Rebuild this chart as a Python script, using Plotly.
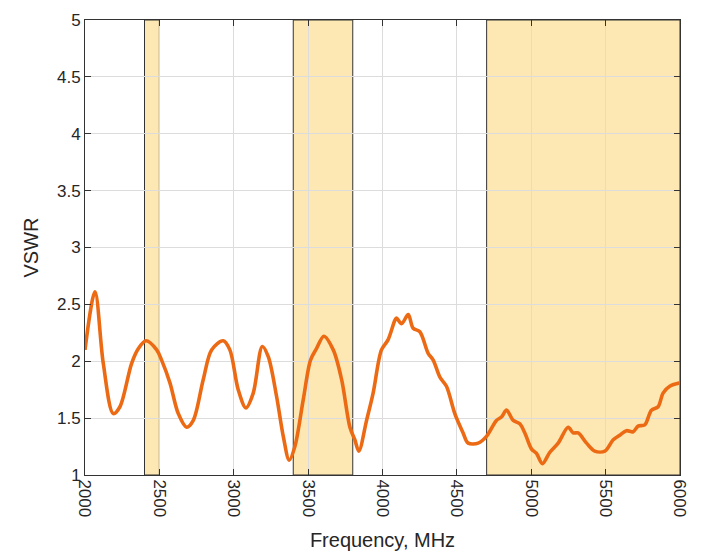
import plotly.graph_objects as go

freq_mhz = [2000, 2067, 2123, 2190, 2235, 2313, 2358, 2410, 2482, 2515, 2571, 2627, 2683, 2728,
            2795, 2851, 2929, 2974, 3030, 3082, 3131, 3192, 3232, 3288, 3333, 3373, 3411, 3467,
            3516, 3556, 3606, 3669, 3725, 3781, 3814, 3841, 3893, 3937, 3993, 4038, 4083, 4094,
            4128, 4173, 4206, 4251, 4307, 4341, 4386, 4430, 4486, 4542, 4576, 4643, 4699, 4766,
            4800, 4834, 4879, 4923, 4957, 5001, 5035, 5075, 5125, 5181, 5248, 5282, 5315, 5372,
            5427, 5495, 5551, 5595, 5640, 5685, 5718, 5763, 5808, 5853, 5886, 5931, 6000]
vswr = [2.10, 2.61, 1.98, 1.54, 1.60, 1.98, 2.11, 2.18, 2.10, 2.01, 1.81, 1.54, 1.42, 1.48,
        1.84, 2.10, 2.18, 2.10, 1.75, 1.59, 1.72, 2.13, 2.04, 1.69, 1.34, 1.13, 1.25, 1.66,
        2.01, 2.11, 2.22, 2.10, 1.84, 1.42, 1.31, 1.21, 1.48, 1.72, 2.10, 2.19, 2.36, 2.38,
        2.33, 2.41, 2.29, 2.26, 2.07, 2.01, 1.86, 1.78, 1.54, 1.37, 1.28, 1.28, 1.34, 1.48,
        1.51, 1.57, 1.48, 1.45, 1.37, 1.23, 1.19, 1.10, 1.20, 1.28, 1.42, 1.37, 1.37, 1.28,
        1.21, 1.21, 1.31, 1.35, 1.39, 1.38, 1.43, 1.44, 1.57, 1.60, 1.72, 1.78, 1.81]

band_starts = [2400, 3400, 4700]
band_ends = [2500, 3800, 6000]

x_ticks = [2000, 2500, 3000, 3500, 4000, 4500, 5000, 5500, 6000]
y_ticks = [1, 1.5, 2, 2.5, 3, 3.5, 4, 4.5, 5]
y_tick_labels = ["1", "1.5", "2", "2.5", "3", "3.5", "4", "4.5", "5"]

FONT = "Liberation Sans, Arial"

fig = go.Figure()
fig.add_trace(go.Scatter(x=freq_mhz, y=vswr, mode="lines",
                         line=dict(color="#EC6A14", width=3.6, shape="spline", smoothing=0.9),
                         showlegend=False))

for s, e in zip(band_starts, band_ends):
    fig.add_shape(type="rect", xref="x", yref="y", x0=s, x1=e, y0=1, y1=5,
                  fillcolor="#FDE8B3", line=dict(color="#333333", width=1), layer="below")

axis_common = dict(showline=True, linecolor="#333333", linewidth=1, mirror="ticks",
                   ticks="inside", ticklen=6, tickcolor="#333333", automargin=False,
                   showgrid=True, gridcolor="#DCDCDC", gridwidth=1, zeroline=False,
                   tickfont=dict(family=FONT, size=17, color="#262626"))

fig.update_xaxes(range=[2000, 6000], tickvals=x_ticks, tickangle=90,
                 title=dict(text="Frequency, MHz", font=dict(family=FONT, size=20, color="#262626"),
                            standoff=16),
                 **axis_common)
fig.update_yaxes(range=[1, 5], tickvals=y_ticks, ticktext=y_tick_labels,
                 title=dict(text="VSWR", font=dict(family=FONT, size=20, color="#262626"),
                            standoff=12),
                 **axis_common)

fig.update_layout(width=695, height=551, margin=dict(l=77, r=23, t=12, b=84),
                  plot_bgcolor="white", paper_bgcolor="white")

fig.write_html("out.html")
